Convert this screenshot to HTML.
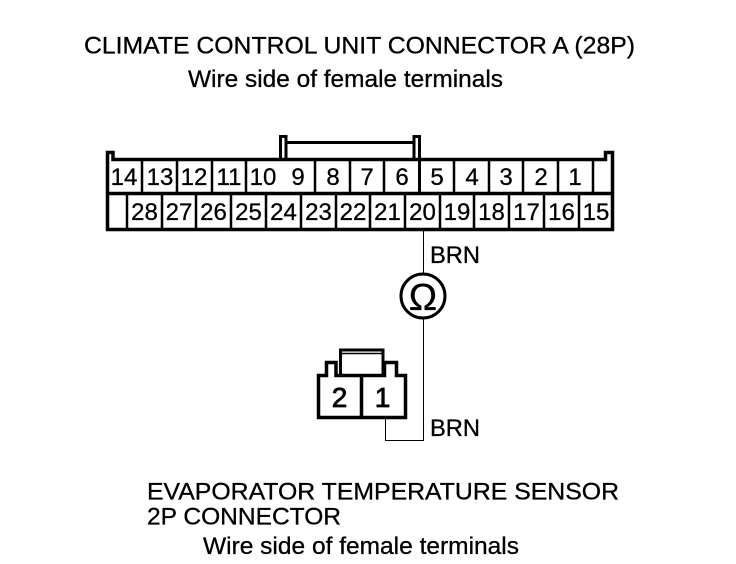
<!DOCTYPE html>
<html>
<head>
<meta charset="utf-8">
<style>
html,body{margin:0;padding:0;background:#fff}
svg{display:block}
text{font-family:"Liberation Sans",sans-serif;fill:#000;stroke:#000;stroke-width:.3}
</style>
</head>
<body>
<svg width="736" height="564" viewBox="0 0 736 564" xmlns="http://www.w3.org/2000/svg">
<g font-size="24">
<text x="84" y="53.500" textLength="551" lengthAdjust="spacingAndGlyphs">CLIMATE CONTROL UNIT CONNECTOR A (28P)</text>
<text x="188" y="87" textLength="315" lengthAdjust="spacingAndGlyphs">Wire side of female terminals</text>
<text x="147" y="499.500" textLength="472" lengthAdjust="spacingAndGlyphs">EVAPORATOR TEMPERATURE SENSOR</text>
<text x="147" y="524.500" textLength="194" lengthAdjust="spacingAndGlyphs">2P CONNECTOR</text>
<text x="203" y="554" textLength="316" lengthAdjust="spacingAndGlyphs">Wire side of female terminals</text>
<text x="430" y="263" textLength="50" lengthAdjust="spacingAndGlyphs">BRN</text>
<text x="430" y="436" textLength="50" lengthAdjust="spacingAndGlyphs">BRN</text>
</g>
<g fill="none" stroke="#000">
<path stroke-width="3.500" d="M107.500 229.500V152.500H113V159.500H605.500V152.500H612.500V229.500ZM106 193.500H614"/>
<path stroke-width="3" d="M280.500 159V136.500H286V159M414 159V136.500H419.500V159M286 142.500H414"/>
<path stroke-width="2.500" d="M142 160V193M177 160V193M212 160V193M246 160V193M315 160V193M350 160V193M384 160V193M454 160V193M489 160V193M523 160V193M558 160V193M593 160V193"/>
<path stroke-width="3" d="M419.500 160V193"/>
<path stroke-width="2.500" d="M127 194V229M162 194V229M196 194V229M231 194V229M266 194V229M301 194V229M336 194V229M370 194V229M405 194V229M440 194V229M474 194V229M509 194V229M544 194V229M579 194V229"/>
<path stroke-width="1" d="M423.500 229V273M423.500 319V440.500H385.500V418"/>
<circle cx="423" cy="296" r="22" stroke-width="3"/>
<path stroke-width="3.500" d="M318.500 417.500V375.500H326.500V362.500H336V375.500H384.500V362.500H396.500V375.500H405.500V417.500ZM361.500 375V417"/>
<path stroke-width="3" d="M340.500 374.500V350H383V374.500"/>
<path stroke-width="1.500" d="M340 353.500H383"/>
</g>
<text x="423" y="310" font-size="38" text-anchor="middle">Ω</text>
<g font-size="24" text-anchor="middle">
<text x="124" y="185">14</text><text x="160" y="185">13</text><text x="194" y="185">12</text><text x="229" y="185">11</text><text x="263" y="185">10</text>
<text x="298" y="185">9</text><text x="333" y="185">8</text><text x="367" y="185">7</text><text x="402" y="185">6</text><text x="437" y="185">5</text><text x="472" y="185">4</text><text x="506" y="185">3</text><text x="541" y="185">2</text><text x="575" y="185">1</text>
<text x="144.500" y="220">28</text><text x="179" y="220">27</text><text x="213.500" y="220">26</text><text x="248.500" y="220">25</text><text x="283.500" y="220">24</text><text x="318.500" y="220">23</text><text x="353" y="220">22</text><text x="387.500" y="220">21</text><text x="422.500" y="220">20</text><text x="457" y="220">19</text><text x="491.500" y="220">18</text><text x="526.500" y="220">17</text><text x="561.500" y="220">16</text><text x="596" y="220">15</text>
</g>
<g font-size="28" text-anchor="middle" style="stroke-width:.8">
<text x="339.500" y="407" style="stroke-width:.8">2</text>
<text x="382.500" y="407" style="stroke-width:.8">1</text>
</g>
</svg>
</body>
</html>
